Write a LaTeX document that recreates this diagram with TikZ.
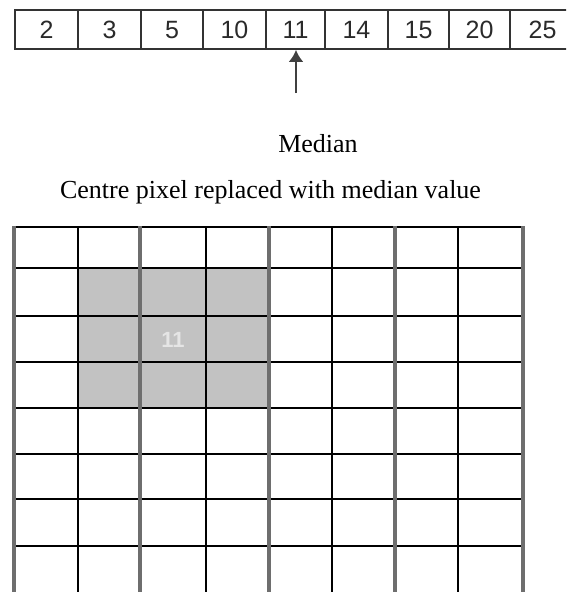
\documentclass[tikz,border=0pt]{standalone}
\usepackage{fontspec}
\setmainfont{Liberation Serif}
\setsansfont{Liberation Sans}
\usetikzlibrary{arrows.meta}
\definecolor{boxline}{HTML}{333333}
\definecolor{numtext}{HTML}{2A2A2A}
\definecolor{gridgray}{HTML}{6E6E6E}
\definecolor{cellfill}{HTML}{C2C2C2}
\definecolor{arrowcol}{HTML}{404040}
\tikzset{
  numcell/.style={draw=boxline, line width=1.8pt, inner sep=0pt, minimum height=39pt,
    text height=18pt, text depth=0pt,
    font=\sffamily\fontsize{25}{25}\selectfont, text=numtext},
  caption/.style={inner sep=0pt, anchor=base, font=\fontsize{26}{26}\selectfont, text=black},
  thinline/.style={draw=black, line width=1.8pt},
  thickline/.style={draw=gridgray, line width=3.4pt},
  medarrow/.style={draw=arrowcol, line width=2.6pt, -{Latex[length=12pt,width=15pt]}}
}
\begin{document}
\begin{tikzpicture}[x=1pt,y=-1pt]
\useasboundingbox (0,0) rectangle (566,592);
\clip (0,0) rectangle (566,592);
% sorted list
\foreach \n/\a/\b/\v in {c1/15/78/2, c2/78/141/3, c3/141/203/5, c4/203/266/10, c5/266/325/11,
  c6/325/388/14, c7/388/449/15, c8/449/510/20, c9/510/575/25}{
  \pgfmathsetmacro{\w}{\b-\a}
  \node[numcell, minimum width=\w pt] (\n) at ({(\a+\b)/2},29.5) {\v};
}
\node[caption] (median) at (318,152) {Median};
\draw[medarrow] (296,93) coordinate (tail) -- (c5.south -| tail);
\node[caption] (centre) at (270.5,198) {Centre pixel replaced with median value};
% grid
\fill[cellfill] (78,268) rectangle (269,408);
\node[inner sep=0pt, font=\sffamily\bfseries\fontsize{22}{22}\selectfont, text=white!90!black] (val) at (173,340) {11};
\foreach \y in {227,268,316,362,408,454,499,546}{
  \draw[thinline] (14,\y) -- (523,\y);
}
\foreach \x in {78,206,332,458}{
  \draw[thinline] (\x,227) -- (\x,600);
}
\foreach \x in {14,140,269,395,523}{
  \draw[thickline] (\x,226) -- (\x,600);
}
\end{tikzpicture}
\end{document}
